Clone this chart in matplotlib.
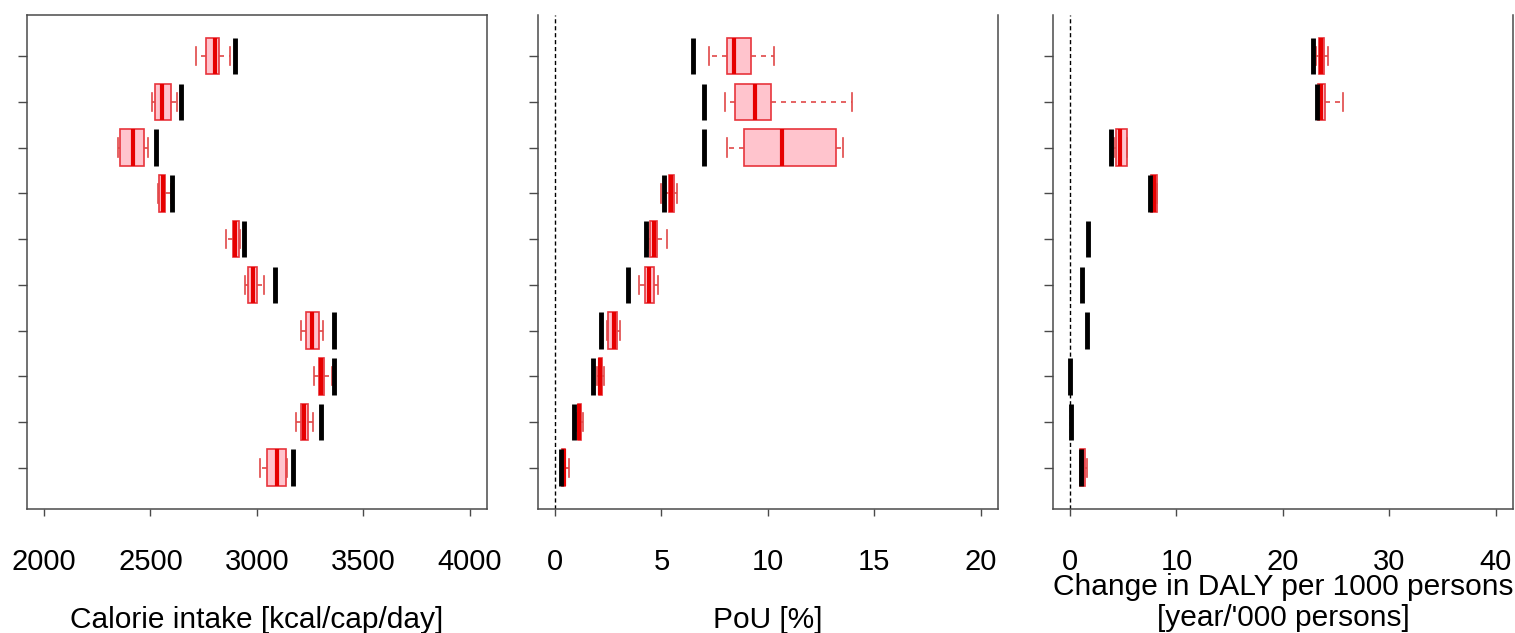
import numpy as np
import matplotlib.pyplot as plt

# rows from top (1) to bottom (10)
rows = np.arange(1, 11)

# Calorie intake [kcal/cap/day]
cal_ref = [2895, 2645, 2526, 2600, 2940, 3087, 3360, 3360, 3303, 3168]
cal_lo = [2715, 2509, 2347, 2537, 2854, 2943, 3208, 3268, 3182, 3015]
cal_q1 = [2763, 2521, 2355, 2542, 2887, 2960, 3230, 3290, 3208, 3049]
cal_med = [2801, 2553, 2417, 2559, 2898, 2980, 3258, 3302, 3219, 3096]
cal_q3 = [2824, 2596, 2470, 2570, 2918, 3000, 3293, 3316, 3241, 3137]
cal_hi = [2873, 2623, 2490, 2595, 2920, 3035, 3308, 3352, 3261, 3140]

# PoU [%]
pou_ref = [6.48, 7.0, 7.0, 5.13, 4.27, 3.42, 2.15, 1.80, 0.89, 0.27]
pou_lo = [7.22, 7.97, 8.08, 4.96, 4.39, 3.94, 2.43, 1.99, 1.02, 0.28]
pou_q1 = [8.08, 8.47, 8.86, 5.36, 4.47, 4.24, 2.51, 2.05, 1.08, 0.31]
pou_med = [8.42, 9.40, 10.67, 5.46, 4.63, 4.42, 2.75, 2.12, 1.14, 0.41]
pou_q3 = [9.21, 10.13, 13.18, 5.57, 4.78, 4.63, 2.93, 2.21, 1.22, 0.49]
pou_hi = [10.27, 13.96, 13.52, 5.74, 5.27, 4.83, 3.06, 2.32, 1.30, 0.64]

# Change in DALY per 1000 persons
daly_ref = [22.85, 23.16, 3.85, 7.51, 1.66, 1.10, 1.60, 0.0, 0.09, 1.03]
nan = np.nan
daly_lo = [23.1, 23.2, 4.10, 7.55, nan, nan, nan, nan, nan, 0.97]
daly_q1 = [23.41, 23.32, 4.32, 7.60, nan, nan, nan, nan, nan, 0.97]
daly_med = [23.6, 23.57, 4.73, 7.85, nan, nan, nan, nan, nan, 1.10]
daly_q3 = [23.88, 23.94, 5.35, 8.14, nan, nan, nan, nan, nan, 1.41]
daly_hi = [24.2, 25.67, 5.40, 8.16, nan, nan, nan, nan, nan, 1.56]

panels = [
    (cal_ref, cal_lo, cal_q1, cal_med, cal_q3, cal_hi, (1920, 4080), [2000, 2500, 3000, 3500, 4000],
     'Calorie intake [kcal/cap/day]', False),
    (pou_ref, pou_lo, pou_q1, pou_med, pou_q3, pou_hi, (-0.8, 20.8), [0, 5, 10, 15, 20],
     'PoU [%]', True),
    (daly_ref, daly_lo, daly_q1, daly_med, daly_q3, daly_hi, (-1.6, 41.6), [0, 10, 20, 30, 40],
     "Change in DALY per 1000 persons\n[year/'000 persons]", True),
]

plt.rcParams['font.family'] = ['Liberation Sans', 'DejaVu Sans']

fig = plt.figure(figsize=(15.15, 6.33), dpi=100)
lefts = [0.0178, 0.3551, 0.695]
spine_col = '#4a4a4a'

for i, (ref, lo, q1, med, q3, hi, xlim, xt, xlabel, zero) in enumerate(panels):
    ax = fig.add_axes([lefts[i], 0.196, 0.3036, 0.7803])
    stats = []
    pos = []
    for r, a, b, c, d, e in zip(rows, lo, q1, med, q3, hi):
        if np.isnan(c):
            continue
        stats.append({'whislo': a, 'q1': b, 'med': c, 'q3': d, 'whishi': e})
        pos.append(r)
    ax.bxp(stats, positions=pos, widths=0.8, capwidths=0.4, orientation='horizontal',
           patch_artist=True, showfliers=False,
           boxprops=dict(facecolor='#ffc4cd', edgecolor='#e8353c', linewidth=1.2),
           medianprops=dict(color='#e60000', linewidth=3),
           whiskerprops=dict(color='#e04848', linestyle=(0, (3, 3)), linewidth=1.2),
           capprops=dict(color='#e04848', linewidth=1.2))
    ax.vlines(ref, rows - 0.4, rows + 0.4, color='black', linewidth=3.5, zorder=4)
    if zero:
        ax.axvline(0, color='black', linestyle=(0, (3, 2)), linewidth=1)
        ax.spines['top'].set_visible(False)
    ax.set_xlim(*xlim)
    ax.set_ylim(10.9, 0.1)
    ax.set_xticks(xt)
    ax.set_xticklabels([str(t) for t in xt])
    ax.set_yticks(rows)
    ax.set_yticklabels([])
    ax.tick_params(axis='x', length=5, width=1, color=spine_col, labelsize=21, pad=23)
    ax.tick_params(axis='y', length=6.5, width=1, color=spine_col)
    for s in ax.spines.values():
        s.set_color(spine_col)
        s.set_linewidth(1.1)
    if i == 2:
        ax.set_xlabel(xlabel, fontsize=21.5, labelpad=-2, linespacing=1.12)
    else:
        ax.set_xlabel(xlabel, fontsize=21.5, labelpad=22)

fig.savefig('out.png', dpi=100)
